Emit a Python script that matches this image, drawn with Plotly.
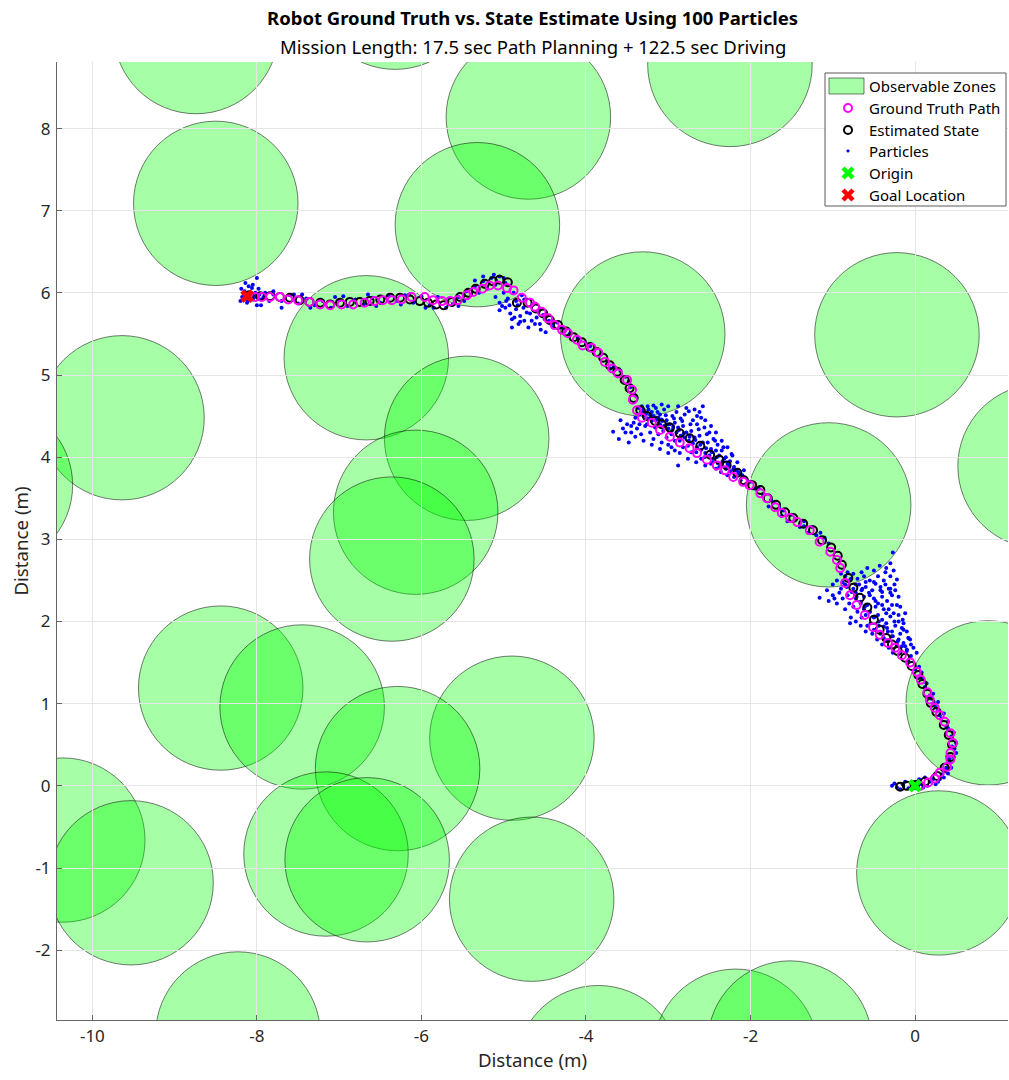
import plotly.graph_objects as go

# ---------------- data ----------------
zone_x = [-8.74, -6.32, -2.25, -4.70, -8.50, -5.32, -3.31, -0.22, -6.67, -9.64,
          -5.45, -11.24, 1.52, -6.07, -1.05, -6.36, -8.44, -7.45, 0.89, -4.90,
          -6.29, -10.36, -9.53, -7.16, -6.66, 0.29, -4.66, -8.23, -3.85, -2.18, -1.52]
zone_y = [9.18, 9.72, 8.78, 8.14, 7.09, 6.83, 5.50, 5.49, 5.21, 4.48,
          4.23, 3.66, 3.89, 3.33, 3.42, 2.76, 1.19, 0.96, 1.01, 0.58,
          0.21, -0.66, -1.18, -0.83, -0.90, -1.06, -1.38, -3.02, -3.43, -3.23, -3.13]
zone_r = 1.0

truth_x = [0.06, 0.16, 0.24, 0.30, 0.39, 0.43, 0.43, 0.46, 0.43, 0.36, 0.30, 0.24, 0.18, 0.15,
           0.07, 0.02, -0.06, -0.16, -0.24, -0.33, -0.43, -0.51, -0.61, -0.71, -0.79, -0.85,
           -0.91, -0.95, -1.03, -1.16, -1.28, -1.43, -1.52, -1.62, -1.70, -1.80, -1.88, -2.01,
           -2.09, -2.21, -2.31, -2.41, -2.53, -2.65, -2.74, -2.86, -2.98, -3.10, -3.20, -3.32,
           -3.38, -3.43, -3.44, -3.50, -3.61, -3.68, -3.77, -3.85, -3.93, -4.04, -4.11, -4.22,
           -4.29, -4.38, -4.46, -4.54, -4.62, -4.68, -4.78, -4.88, -4.96, -5.07, -5.17, -5.26,
           -5.37, -5.45, -5.56, -5.65, -5.75, -5.86, -5.96, -6.12, -6.24, -6.36, -6.47, -6.57,
           -6.69, -6.83, -6.97, -7.11, -7.23, -7.36, -7.50, -7.62, -7.72, -7.84, -7.94, -8.02]
truth_y = [0.00, 0.04, 0.09, 0.16, 0.23, 0.32, 0.40, 0.52, 0.64, 0.78, 0.86, 0.95, 1.05, 1.14,
           1.29, 1.39, 1.50, 1.59, 1.68, 1.74, 1.84, 1.93, 2.08, 2.20, 2.32, 2.47,
           2.65, 2.75, 2.85, 2.97, 3.11, 3.21, 3.26, 3.32, 3.39, 3.50, 3.56, 3.66,
           3.70, 3.76, 3.84, 3.90, 3.97, 4.05, 4.11, 4.18, 4.25, 4.33, 4.42, 4.48,
           4.57, 4.70, 4.82, 4.94, 5.02, 5.08, 5.16, 5.27, 5.33, 5.36, 5.43, 5.51,
           5.55, 5.61, 5.69, 5.77, 5.83, 5.88, 5.94, 6.03, 6.06, 6.09, 6.09, 6.05,
           6.01, 5.97, 5.91, 5.90, 5.90, 5.91, 5.95, 5.95, 5.92, 5.91, 5.91, 5.90,
           5.88, 5.86, 5.86, 5.85, 5.86, 5.89, 5.91, 5.92, 5.95, 5.95, 5.95, 5.95]

est_x = [-0.18, -0.10, 0.00, 0.12, 0.27, 0.36, 0.43, 0.45, 0.41, 0.35, 0.26, 0.19, 0.15, 0.09,
         0.04, -0.04, -0.12, -0.21, -0.28, -0.35, -0.43, -0.50, -0.58, -0.67, -0.75, -0.81,
         -0.89, -0.94, -1.02, -1.13, -1.24, -1.36, -1.48, -1.58, -1.69, -1.79, -1.88, -1.98,
         -2.08, -2.16, -2.29, -2.38, -2.49, -2.61, -2.74, -2.86, -2.98, -3.08, -3.16, -3.26,
         -3.34, -3.42, -3.47, -3.53, -3.62, -3.71, -3.79, -3.87, -3.95, -4.05, -4.15, -4.24,
         -4.34, -4.44, -4.52, -4.61, -4.71, -4.84, -4.95, -5.05, -5.13, -5.23, -5.34, -5.43,
         -5.53, -5.63, -5.73, -5.82, -5.92, -6.02, -6.14, -6.26, -6.38, -6.50, -6.63, -6.75,
         -6.87, -6.99, -7.11, -7.23, -7.36, -7.48, -7.60, -7.72, -7.84, -7.96, -8.09]
est_y = [-0.01, 0.00, 0.01, 0.05, 0.12, 0.22, 0.35, 0.50, 0.62, 0.74, 0.90, 1.01, 1.12, 1.24,
         1.35, 1.46, 1.56, 1.64, 1.72, 1.80, 1.90, 2.02, 2.17, 2.29, 2.41, 2.53,
         2.69, 2.80, 2.90, 2.99, 3.11, 3.19, 3.26, 3.33, 3.42, 3.50, 3.60, 3.66,
         3.72, 3.81, 3.90, 3.97, 4.03, 4.14, 4.23, 4.29, 4.36, 4.40, 4.44, 4.50,
         4.57, 4.72, 4.84, 4.94, 5.04, 5.12, 5.21, 5.28, 5.34, 5.40, 5.46, 5.53,
         5.61, 5.67, 5.75, 5.81, 5.88, 5.88, 6.13, 6.16, 6.14, 6.11, 6.05, 6.00,
         5.95, 5.89, 5.85, 5.86, 5.88, 5.90, 5.92, 5.94, 5.94, 5.92, 5.90, 5.89,
         5.89, 5.88, 5.86, 5.88, 5.89, 5.91, 5.94, 5.95, 5.96, 5.96, 5.97]

# particle cloud (hand-placed samples)
particle_x = [
    # cloud near (-3.0, 4.3)
    -3.36, -3.30, -3.25, -3.20, -3.15, -3.10, -3.05, -3.00, -2.95, -2.90, -2.85, -2.80, -2.75,
    -2.70, -2.65, -2.60, -2.56, -2.50, -2.45, -2.40, -2.35, -2.30, -2.25, -2.20, -2.15, -2.10,
    -3.30, -3.25, -3.20, -3.15, -3.10, -3.05, -3.00, -2.95, -2.90, -2.85, -2.80, -2.75, -2.70,
    -2.65, -2.60, -2.55, -2.50, -2.45, -2.40, -2.35, -2.30, -2.25,
    -3.22, -3.12, -3.02, -2.92, -2.82, -2.72, -2.62, -2.52, -2.42, -2.32,
    -3.67, -3.58, -3.55, -3.50, -3.45, -3.42, -3.38, -3.33, -3.28, -3.22, -3.18, -3.12, -3.08,
    -3.02, -2.96, -2.92, -2.86, -2.82, -2.76, -2.72, -2.66, -2.60, -2.55, -2.48, -2.42, -2.36,
    -2.28, -2.20, -2.12, -3.60, -3.48, -3.00, -2.88, -2.62, -2.58,
    -3.35, -3.28, -3.18, -3.08, -2.98, -2.88, -2.78, -2.68, -2.58, -2.48, -2.38, -2.28, -2.18,
    -3.26, -3.16, -3.06, -2.96, -2.86, -2.76, -2.66, -2.56, -2.46, -2.38,
    -3.40, -3.35, -3.45, -3.52, -3.40, -3.30, -3.20, -3.10, -3.00, -2.92,
    -3.32, -3.18, -3.08, -2.88, -2.78, -2.68, -2.65, -2.55, -2.48, -2.42, -2.35, -2.28, -2.22,
    -2.16, -2.08,
    -3.33, -3.27, -3.21, -3.14, -3.07, -3.01, -2.94, -2.87, -2.81, -2.74, -2.67, -2.61, -2.54,
    -2.47, -2.41, -2.34, -2.27, -2.21, -2.14,
    -3.24, -3.13, -3.03, -2.93, -2.83, -2.73, -2.63, -2.53, -2.43, -2.33, -2.23,
    # cloud near (-0.5, 2.2)
    -0.30, -0.27, -0.35, -0.43, -0.50, -0.58, -0.62, -0.55, -0.45, -0.38, -0.30, -0.25, -0.22,
    -0.32, -0.42, -0.52, -0.60, -0.68, -0.72, -0.62, -0.50, -0.40, -0.28, -0.20, -0.18, -0.28,
    -0.38, -0.48, -0.58, -0.66, -0.70, -0.60, -0.50, -0.40, -0.30, -0.20, -0.12, -0.14, -0.24,
    -0.34, -0.44, -0.54, -0.10, -0.18, -0.28, -0.38, -0.06, -0.14, -0.22, -0.02, -0.10, 0.02,
    -0.05,
    -1.16, -1.07, -1.00, -0.95, -0.88, -0.85, -0.80, -0.78, -0.79, -0.72, -0.66, -0.60, -0.52,
    -0.46, -0.40, -0.32, -0.27,
    -0.95, -0.90, -0.85, -0.82, -0.78, -0.75, -0.90, -1.00,
    -0.85, -0.75, -0.65, -0.70, -0.60, -0.48, -0.36, -0.40, -0.34, -0.24, -0.26, -0.65, -0.55,
    -0.45, -0.35, -0.25, -0.16, -0.08, -0.55, -0.45, -0.35, -0.28, -0.20, -0.12, -0.75, -0.65,
    -0.58, -0.50, -0.42, -0.34, -0.92, -0.82, -0.98, -1.05, -0.72, -0.62, -0.30, -0.22, -0.15,
    -0.05,
    -0.88, -0.83, -0.77, -0.71, -0.66, -0.61, -0.55, -0.49, -0.44, -0.38, -0.33, -0.27, -0.21,
    -0.16, -0.10, -0.80, -0.72, -0.64, -0.56, -0.48, -0.40, -0.32, -0.26, -0.20, -0.14, -0.08,
    -0.50, -0.42, -0.36, -0.30,
    # cloud near (-4.8, 5.8)
    -5.00, -4.95, -5.05, -4.98, -5.05, -4.92, -4.85, -4.90, -4.80, -4.90, -4.82, -4.75, -4.70,
    -4.62, -4.55, -4.49, -4.60, -4.68, -4.76, -4.58, -4.50, -4.42, -4.85, -4.75, -4.65, -5.10,
    -4.88, -4.78,
    -4.97, -4.93, -4.87, -4.83, -4.72, -4.66, -4.56, -4.52, -4.45, -4.40, -5.02, -4.80,
    # near goal
    -8.18, -8.15, -8.12, -8.10, -8.05, -8.02, -8.00, -8.08, -7.98, -7.95, -8.14, -8.20, -7.90,
    -7.85, -7.80, -8.00,
    -8.16, -8.06, -8.03, -7.97, -8.11, -8.19, -7.92, -8.05,
    # along the path
    -0.28, -0.22, -0.15, -0.08, 0.00, 0.08, 0.15, 0.22, 0.28, 0.32, 0.36, 0.40, 0.42, 0.47,
    0.48, 0.45, 0.40, 0.32, 0.28, 0.22, 0.18, 0.12, 0.06, 0.00, -0.08, 0.05, 0.10, -0.12, 0.05,
    0.12,
    -0.25, -0.18, -0.05, 0.02, 0.10, 0.18, 0.25, 0.30, 0.35, 0.38, 0.44, 0.50, 0.50, 0.47,
    0.40, 0.35, 0.28, 0.22, 0.14, 0.08,
    0.33, 0.38, 0.42, 0.45, 0.44, 0.38, 0.30, 0.25, 0.20, 0.12,
    -1.10, -1.20, -1.25, -1.35, -1.40, -1.50, -1.55, -1.65, -1.72, -1.78, -1.85, -1.95, -2.00,
    -1.62, -1.30, -1.05, -1.15, -1.45, -1.60, -1.75, -1.90, -2.05, -1.35,
    -3.40, -3.46, -3.52, -3.58, -3.66, -3.74, -3.82, -3.90, -4.00, -4.10, -4.20, -4.30, -4.40,
    -3.48, -3.70, -3.95, -4.25, -4.35,
    -5.05, -5.15, -5.25, -5.35, -5.45, -5.55, -5.62, -5.70, -5.55, -5.48, -5.30, -5.20, -5.10,
    -4.98, -5.35, -5.25, -5.12, -5.00,
    -5.80, -5.90, -6.00, -6.10, -6.20, -6.30, -6.40, -6.50, -6.60, -6.70, -6.80, -6.90, -7.00,
    -7.10, -7.20, -7.30, -7.40, -7.50, -7.60, -7.70, -7.80, -5.85, -6.25, -6.65, -7.05, -7.45,
    -7.95, -7.70, -7.55, -7.35, -6.95, -6.55, -6.15, -5.95,
]
particle_y = [
    4.60, 4.58, 4.62, 4.55, 4.60, 4.52, 4.58, 4.62, 4.50, 4.55, 4.47, 4.52, 4.56,
    4.45, 4.40, 4.48, 4.36, 4.30, 4.22, 4.15, 4.08, 4.00, 3.95, 3.88, 3.82, 3.78,
    4.50, 4.47, 4.44, 4.45, 4.40, 4.38, 4.35, 4.33, 4.30, 4.26, 4.24, 4.20, 4.17,
    4.12, 4.09, 4.05, 4.02, 3.98, 3.93, 3.90, 3.86, 3.83,
    4.52, 4.48, 4.45, 4.42, 4.38, 4.32, 4.26, 4.18, 4.08, 3.98,
    4.31, 4.45, 4.35, 4.40, 4.30, 4.42, 4.35, 4.28, 4.38, 4.30, 4.22, 4.28, 4.18,
    4.24, 4.12, 4.20, 4.05, 4.12, 3.98, 4.06, 3.94, 3.98, 3.90, 3.92, 3.86, 3.82,
    3.78, 3.76, 3.72, 4.22, 4.18, 4.05, 3.90, 4.55, 4.62,
    4.52, 4.55, 4.50, 4.46, 4.40, 4.36, 4.30, 4.24, 4.18, 4.10, 4.02, 3.92, 3.84,
    4.40, 4.36, 4.32, 4.28, 4.20, 4.14, 4.06, 4.00, 3.94, 3.88,
    4.48, 4.40, 4.38, 4.30, 4.25, 4.20, 4.15, 4.10, 4.15, 4.08,
    4.62, 4.63, 4.64, 4.62, 4.60, 4.58, 4.50, 4.45, 4.38, 4.30, 4.20, 4.12, 4.02,
    3.94, 3.84,
    4.56, 4.53, 4.49, 4.47, 4.44, 4.40, 4.37, 4.33, 4.29, 4.25, 4.21, 4.15, 4.11,
    4.06, 4.00, 3.95, 3.90, 3.85, 3.80,
    4.58, 4.55, 4.51, 4.47, 4.44, 4.40, 4.34, 4.28, 4.20, 4.12, 4.04,
    2.71, 2.84, 2.65, 2.68, 2.62, 2.65, 2.55, 2.50, 2.55, 2.50, 2.55, 2.45, 2.51,
    2.40, 2.42, 2.38, 2.42, 2.45, 2.35, 2.30, 2.28, 2.30, 2.32, 2.30, 2.18, 2.20,
    2.15, 2.18, 2.20, 2.22, 2.12, 2.08, 2.05, 2.02, 2.06, 2.08, 2.10, 1.98, 1.95,
    1.92, 1.95, 1.98, 1.88, 1.85, 1.82, 1.80, 1.78, 1.74, 1.72, 1.68, 1.66, 1.62,
    1.58,
    2.29, 2.38, 2.32, 2.22, 2.28, 2.15, 2.22, 2.05, 1.98, 2.00, 1.95, 1.88, 1.85,
    1.78, 1.72, 1.68, 1.62,
    2.50, 2.58, 2.45, 2.60, 2.52, 2.40, 2.40, 2.45,
    2.55, 2.58, 2.60, 2.52, 2.48, 2.46, 2.60, 2.36, 2.25, 2.38, 2.62, 2.38, 2.32,
    2.22, 2.10, 2.00, 1.92, 1.80, 2.12, 2.08, 1.98, 1.88, 1.78, 1.70, 2.18, 2.05,
    1.95, 1.90, 1.85, 1.76, 2.35, 2.32, 2.28, 2.25, 2.28, 2.15, 2.40, 2.20, 2.02,
    1.72,
    2.48, 2.42, 2.36, 2.30, 2.24, 2.18, 2.12, 2.06, 2.00, 1.94, 1.88, 1.82, 1.76,
    1.70, 1.64, 2.50, 2.45, 2.40, 2.35, 2.25, 2.20, 2.15, 2.10, 2.00, 1.90, 1.80,
    2.48, 2.38, 2.45, 2.35,
    6.00, 5.93, 5.88, 5.82, 5.79, 5.75, 5.80, 5.68, 5.72, 5.58, 5.62, 5.66, 5.58,
    5.62, 5.55, 5.52, 5.70, 5.75, 5.82, 5.78, 5.68, 5.62, 5.90, 5.92, 5.85, 5.95,
    6.00, 5.97,
    5.90, 5.85, 5.70, 5.85, 5.76, 5.66, 5.62, 5.73, 5.66, 5.58, 5.84, 5.65,
    5.95, 6.02, 5.88, 6.08, 5.92, 6.00, 5.85, 5.98, 6.05, 5.92, 6.12, 5.90, 6.00,
    5.90, 6.02, 6.18,
    5.99, 6.06, 5.95, 5.98, 5.90, 6.05, 5.95, 6.10,
    0.00, -0.02, 0.02, -0.03, -0.02, 0.02, 0.00, 0.08, 0.05, 0.12, 0.18, 0.15, 0.28, 0.35,
    0.45, 0.58, 0.70, 0.82, 0.92, 1.00, 1.10, 1.20, 1.32, 1.42, 1.52, 1.45, 1.30, 0.05, 0.08,
    0.10,
    0.03, -0.04, 0.04, 0.05, -0.02, 0.05, 0.02, 0.08, 0.10, 0.22, 0.22, 0.40, 0.52, 0.65,
    0.78, 0.88, 1.02, 1.12, 1.25, 1.38,
    0.14, 0.20, 0.33, 0.48, 0.60, 0.72, 0.86, 0.96, 1.06, 1.20,
    3.02, 3.05, 3.15, 3.22, 3.15, 3.30, 3.22, 3.38, 3.45, 3.40, 3.55, 3.62, 3.70,
    3.28, 3.08, 2.95, 3.08, 3.25, 3.35, 3.48, 3.62, 3.68, 3.16,
    4.75, 4.85, 4.98, 5.05, 5.10, 5.18, 5.25, 5.30, 5.38, 5.45, 5.50, 5.58, 5.65,
    4.92, 5.08, 5.35, 5.55, 5.64,
    6.20, 6.18, 6.14, 6.08, 6.02, 5.95, 5.86, 5.82, 5.84, 5.90, 6.00, 6.05, 6.10,
    6.12, 6.15, 6.20, 6.22, 6.18,
    5.95, 5.85, 5.96, 5.88, 5.97, 5.90, 5.97, 5.88, 5.94, 5.86, 5.92, 5.84, 5.91,
    5.82, 5.90, 5.85, 5.93, 5.87, 5.97, 5.90, 5.98, 5.82, 5.86, 5.98, 5.95, 5.98,
    5.85, 5.82, 5.98, 5.82, 5.96, 5.84, 5.98, 5.82,
]

origin = (0.0, 0.0)
goal = (-8.12, 5.96)

title_main = "Robot Ground Truth vs. State Estimate Using 100 Particles"
title_sub = "Mission Length: 17.5 sec Path Planning + 122.5 sec Driving"
x_ticks = [-10, -8, -6, -4, -2, 0]
x_tick_text = ["-10", "-8", "-6", "-4", "-2", "0"]
y_ticks = [-2, -1, 0, 1, 2, 3, 4, 5, 6, 7, 8]
y_tick_text = ["-2", "-1", "0", "1", "2", "3", "4", "5", "6", "7", "8"]
legend_labels = ["Observable Zones", "Ground Truth Path", "Estimated State",
                 "Particles", "Origin", "Goal Location"]

# ---------------- style / layout constants ----------------
W, H = 1009, 1080
ML, MR, MT, MB = 57, 1, 62, 60
FONT = "Noto Sans"
ZONE_FILL = "rgba(0,255,0,0.35)"
ZONE_LINE = "rgba(0,0,0,0.65)"
MAGENTA, BLACK, BLUE = "#ff00ff", "#000000", "#0000ff"
LIME, RED = "#00ff00", "#ff0000"


def pxx(px):
    return (px - ML) / (W - ML - MR)


def pxy(py):
    return (H - MB - py) / (H - MT - MB)


fig = go.Figure()

shapes = []
for cx, cy in zip(zone_x, zone_y):
    shapes.append(dict(type="circle", xref="x", yref="y",
                       x0=cx - zone_r, x1=cx + zone_r, y0=cy - zone_r, y1=cy + zone_r,
                       fillcolor=ZONE_FILL, line=dict(color=ZONE_LINE, width=0.8),
                       layer="below"))

fig.add_trace(go.Scatter(x=particle_x, y=particle_y, mode="markers",
                         marker=dict(color=BLUE, size=4, line=dict(width=0)),
                         name="Particles", showlegend=False))
fig.add_trace(go.Scatter(x=est_x, y=est_y, mode="markers",
                         marker=dict(symbol="circle-open", color=BLACK, size=8,
                                     line=dict(width=2, color=BLACK)),
                         name="Estimated State", showlegend=False))
fig.add_trace(go.Scatter(x=truth_x, y=truth_y, mode="markers",
                         marker=dict(symbol="circle-open", color=MAGENTA, size=8,
                                     line=dict(width=2, color=MAGENTA)),
                         name="Ground Truth Path", showlegend=False))
fig.add_trace(go.Scatter(x=[origin[0]], y=[origin[1]], mode="markers",
                         marker=dict(symbol="x", color=LIME, size=12, line=dict(width=0)),
                         name="Origin", showlegend=False))
fig.add_trace(go.Scatter(x=[goal[0]], y=[goal[1]], mode="markers",
                         marker=dict(symbol="x", color=RED, size=12, line=dict(width=0)),
                         name="Goal Location", showlegend=False))

# ---------------- hand-built legend (MATLAB style) ----------------
LEG_L, LEG_R, LEG_T, LEG_B = 825, 1006, 73, 206
row_y = [86, 108, 130, 151, 173, 195]
sym_x = 848
text_x = 867

shapes.append(dict(type="rect", xref="paper", yref="paper",
                   x0=pxx(LEG_L), x1=pxx(LEG_R), y0=pxy(LEG_B), y1=pxy(LEG_T),
                   fillcolor="white", line=dict(color="#5a5a5a", width=1), layer="above"))
shapes.append(dict(type="rect", xref="paper", yref="paper",
                   x0=pxx(829), x1=pxx(864), y0=pxy(94), y1=pxy(78),
                   fillcolor=ZONE_FILL, line=dict(color=ZONE_LINE, width=0.8), layer="above"))


def pix_shape(kind, cx, cy, **kw):
    d = dict(type=kind, xref="paper", yref="paper", xsizemode="pixel", ysizemode="pixel",
             xanchor=pxx(cx), yanchor=pxy(cy), layer="above")
    d.update(kw)
    return d


shapes.append(pix_shape("circle", sym_x, row_y[1], x0=-4, x1=4, y0=-4, y1=4,
                        line=dict(color=MAGENTA, width=2)))
shapes.append(pix_shape("circle", sym_x, row_y[2], x0=-4, x1=4, y0=-4, y1=4,
                        line=dict(color=BLACK, width=2)))
shapes.append(pix_shape("circle", sym_x, row_y[3], x0=-1.3, x1=1.3, y0=-1.3, y1=1.3,
                        fillcolor=BLUE, line=dict(color=BLUE, width=0.5)))
shapes.append(pix_shape("path", sym_x, row_y[4], path="M-5,-5 L5,5 M-5,5 L5,-5",
                        line=dict(color=LIME, width=4.5)))
shapes.append(pix_shape("path", sym_x, row_y[5], path="M-5,-5 L5,5 M-5,5 L5,-5",
                        line=dict(color=RED, width=4.5)))

annotations = []
for lab, ry in zip(legend_labels, row_y):
    annotations.append(dict(text=lab, xref="paper", yref="paper", x=pxx(text_x), y=pxy(ry),
                            xanchor="left", yanchor="middle", showarrow=False,
                            font=dict(size=15, family=FONT, color="black")))

annotations.append(dict(text="<b>" + title_main + "</b>", xref="paper", yref="paper",
                        x=0.5, y=1.0, yshift=45, xanchor="center", yanchor="middle",
                        showarrow=False, font=dict(size=18.5, family=FONT, color="black")))
annotations.append(dict(text=title_sub, xref="paper", yref="paper",
                        x=0.5, y=1.0, yshift=16, xanchor="center", yanchor="middle",
                        showarrow=False, font=dict(size=18.5, family=FONT, color="black")))

axis_common = dict(showgrid=True, gridcolor="#e6e6e6", gridwidth=1,
                   showline=True, linecolor="#666666", linewidth=1,
                   ticks="inside", ticklen=5, tickcolor="#666666",
                   zeroline=False, tickfont=dict(size=17, color="#262626", family=FONT),
                   mirror=False)

fig.update_layout(
    width=W, height=H,
    margin=dict(l=ML, r=MR, t=MT, b=MB),
    paper_bgcolor="white", plot_bgcolor="white",
    font=dict(family=FONT, color="#262626"),
    shapes=shapes,
    annotations=annotations,
    showlegend=False,
    xaxis=dict(range=[-10.43, 1.13], tickvals=x_ticks, ticktext=x_tick_text,
               ticklabelstandoff=1,
               title=dict(text="Distance (m)", font=dict(size=18.7, family=FONT), standoff=6),
               **axis_common),
    yaxis=dict(range=[-2.85, 8.81], tickvals=y_ticks, ticktext=y_tick_text,
               ticklabelstandoff=2,
               title=dict(text="Distance (m)", font=dict(size=18.7, family=FONT), standoff=1),
               **axis_common),
)

fig.write_html("out.html", config={"displayModeBar": False},
               post_script="document.body.style.margin='0';")
